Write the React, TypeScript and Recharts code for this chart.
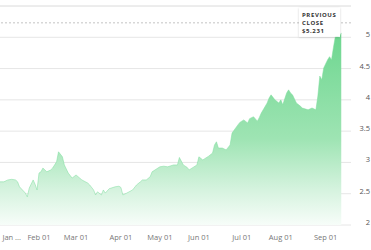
import { AreaChart, Area, XAxis, YAxis, CartesianGrid, ReferenceLine } from "recharts"

// trading-day index and close price
const days = [
  0, 2, 4, 6, 8, 9, 10, 13, 14, 15, 17, 18, 19, 20, 21, 22, 24, 26, 27, 29,
  30, 32, 33, 35, 37, 39, 42, 45, 46, 48, 49, 50, 52, 53, 54, 56, 59, 61, 62, 63,
  65, 68, 70, 72, 73, 75, 77, 78, 81, 82, 84, 86, 89, 91, 92, 94, 96, 97, 99, 101,
  102, 104, 105, 107, 109, 110, 111, 112, 114, 116, 118, 119, 122, 123, 125, 127, 128, 130, 132, 133,
  134, 137, 138, 139, 141, 143, 144, 145, 147, 148, 149, 150, 152, 154, 155, 158, 160, 162, 163, 164,
  165, 166, 168, 169, 170, 171, 172, 173, 174, 175
]
const prices = [
  2.69, 2.69, 2.72, 2.73, 2.72, 2.69, 2.61, 2.51, 2.45, 2.59, 2.72, 2.65, 2.56, 2.83, 2.85, 2.91, 2.85, 2.88, 2.91, 3.01,
  3.17, 3.09, 2.96, 2.83, 2.75, 2.8, 2.72, 2.67, 2.64, 2.56, 2.48, 2.53, 2.48, 2.56, 2.51, 2.58, 2.61, 2.62, 2.6, 2.48,
  2.51, 2.56, 2.64, 2.69, 2.72, 2.72, 2.77, 2.85, 2.91, 2.93, 2.94, 2.93, 2.96, 2.96, 3.08, 2.96, 2.92, 2.88, 2.92, 2.96,
  3.09, 3.04, 3.06, 3.1, 3.15, 3.28, 3.33, 3.23, 3.23, 3.2, 3.28, 3.47, 3.6, 3.64, 3.68, 3.63, 3.7, 3.73, 3.66, 3.72,
  3.79, 3.95, 4.03, 4.08, 4.0, 3.95, 4.0, 3.92, 4.11, 4.16, 4.11, 4.08, 3.95, 3.9, 3.87, 3.84, 3.87, 3.84, 4.06, 4.38,
  4.32, 4.51, 4.64, 4.69, 4.64, 4.84, 5.02, 5.04, 5.0, 5.07
]

const monthDays = [6, 20, 39, 62, 82, 102, 124, 144, 167]
const monthLabels = ["Jan ...", "Feb 01", "Mar 01", "Apr 01", "May 01", "Jun 01", "Jul 01", "Aug 01", "Sep 01"]
const priceTicks = [2, 2.5, 3, 3.5, 4, 4.5, 5]
const previousClose = 5.231

const data = days.map((d, i) => ({ day: d, price: prices[i] }))

const font = "'Open Sans', sans-serif"

const XTick = ({ x, y, payload }: any) => {
  const idx = monthDays.indexOf(payload.value)
  return (
    <text x={x} y={y + 13} textAnchor="middle" fontSize={7.5} fill="#777" fontFamily={font}>
      {monthLabels[idx]}
    </text>
  )
}

const YTick = ({ x, y, payload }: any) => (
  <text x={x + 17} y={y} textAnchor="end" fontSize={7.5} fill="#555" fontFamily={font}>
    {payload.value}
  </text>
)

const CloseBox = ({ viewBox }: any) => {
  const bx = viewBox.x + viewBox.width - 52
  const by = viewBox.y - 15
  const textStyle = { fontSize: 6, fontWeight: 700, letterSpacing: 0.6, fill: "#333", fontFamily: font }
  return (
    <g>
      <rect x={bx} y={by} width={41} height={29} fill="#fff" filter="url(#boxShadow)" />
      <text x={bx + 3} y={viewBox.y - 5.5} {...textStyle}>PREVIOUS</text>
      <text x={bx + 3} y={viewBox.y + 2.2} {...textStyle}>CLOSE</text>
      <text x={bx + 3} y={viewBox.y + 9.8} {...textStyle}>${previousClose}</text>
    </g>
  )
}

export default function App() {
  return (
    <div>
      <style>{`body { margin: 0; }`}</style>
      <AreaChart width={371} height={250} data={data} margin={{ top: 6, right: 0, bottom: 0, left: 0 }}>
        <defs>
          <linearGradient id="priceFill" x1="0" y1="0" x2="0" y2="1">
            <stop offset="0%" stopColor="#6dd68f" stopOpacity={1} />
            <stop offset="55%" stopColor="#9ee4b3" stopOpacity={1} />
            <stop offset="82%" stopColor="#d6f3df" stopOpacity={1} />
            <stop offset="100%" stopColor="#f7fdf9" stopOpacity={1} />
          </linearGradient>
          <filter id="boxShadow" x="-20%" y="-20%" width="140%" height="140%">
            <feDropShadow dx="0" dy="0.5" stdDeviation="1" floodColor="#000" floodOpacity="0.18" />
          </filter>
        </defs>
        <CartesianGrid vertical={false} stroke="#e6e6e6" />
        <XAxis
          dataKey="day"
          type="number"
          domain={[0, 180]}
          ticks={monthDays}
          interval={0}
          tick={<XTick />}
          tickLine={false}
          axisLine={false}
          tickSize={0}
          height={25}
        />
        <YAxis
          orientation="right"
          domain={[2, 5.5]}
          ticks={priceTicks}
          tick={<YTick />}
          tickLine={false}
          axisLine={false}
          tickSize={0}
          width={20}
        />
        <ReferenceLine y={5.5} stroke="#e6e6e6" />
        <Area
          type="linear"
          dataKey="price"
          stroke="#7ddc9c"
          strokeWidth={0.5}
          fill="url(#priceFill)"
          fillOpacity={1}
          isAnimationActive={false}
        />
        <ReferenceLine
          y={previousClose}
          stroke="#b5b5b5"
          strokeDasharray="2 2"
          strokeWidth={0.8}
          label={<CloseBox />}
        />
      </AreaChart>
    </div>
  )
}
